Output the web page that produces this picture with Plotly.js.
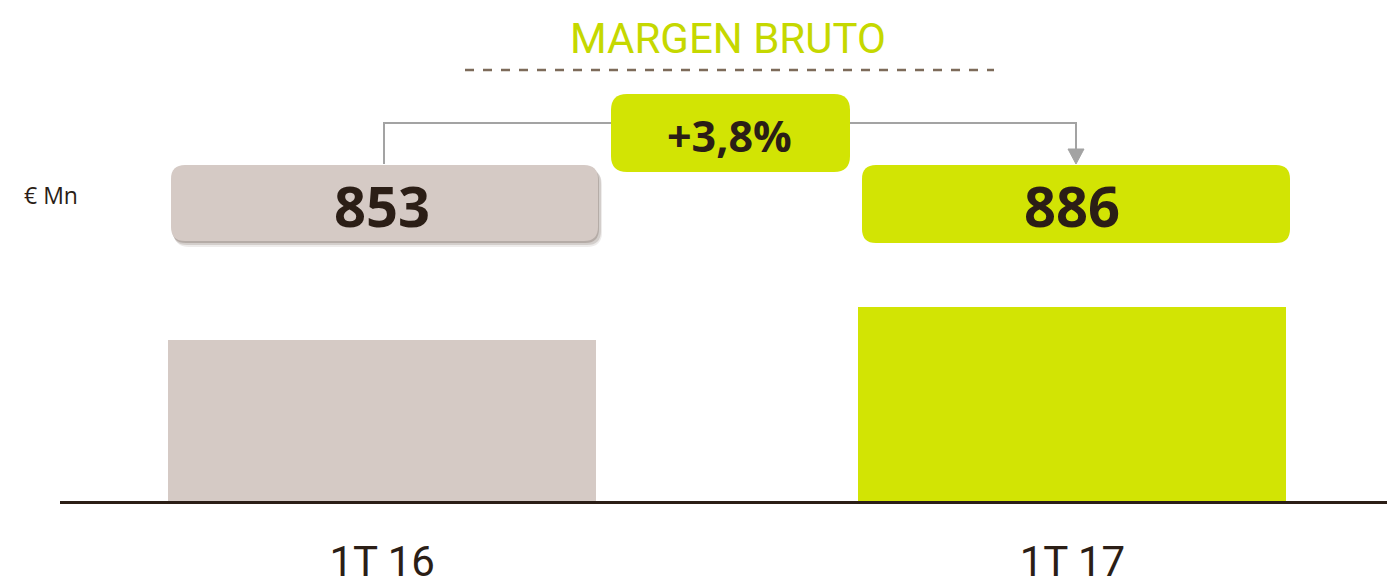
<!DOCTYPE html>
<html>
<head>
<meta charset="utf-8">
<script src="https://cdn.plot.ly/plotly-3.0.1.min.js"></script>
<style>html,body{margin:0;padding:0;background:#fff;}#chart{width:1387px;height:585px;}</style>
</head>
<body>
<div id="chart"></div>
<script>
// ---- data ----
const categories = ['1T 16', '1T 17'];
const values = [853, 886];
const barColors = ['#d5cac5', '#d2e404'];
const valueLabels = ['853', '886'];
const changeLabel = '+3,8%';
const chartTitle = 'MARGEN BRUTO';
const unitLabel = '€ Mn';

// ---- layout helpers (pixel -> paper) ----
const W = 1387, H = 585, ML = 60, MT = 0, MB = 84;
const PW = W - ML, PH = H - MT - MB;
const fx = p => (p - ML) / PW;
const fy = p => (PH - (p - MT)) / PH;
function rr(x0, y0, x1, y1, r) {
  const P = (x, y) => fx(x) + ',' + fy(y);
  return 'M' + P(x0 + r, y0) + ' L' + P(x1 - r, y0) + ' Q' + P(x1, y0) + ' ' + P(x1, y0 + r) +
    ' L' + P(x1, y1 - r) + ' Q' + P(x1, y1) + ' ' + P(x1 - r, y1) +
    ' L' + P(x0 + r, y1) + ' Q' + P(x0, y1) + ' ' + P(x0, y1 - r) +
    ' L' + P(x0, y0 + r) + ' Q' + P(x0, y0) + ' ' + P(x0 + r, y0) + ' Z';
}
function pathShape(d, fill, lineColor, lineWidth) {
  return {type: 'path', xref: 'paper', yref: 'paper', path: d, fillcolor: fill || 'rgba(0,0,0,0)',
    line: {color: lineColor || 'rgba(0,0,0,0)', width: lineWidth || 0}, layer: 'above'};
}
const dark = '#2b1e16';
const lime = '#d2e404';

const trace = {
  type: 'bar', x: categories, y: values,
  marker: {color: barColors, line: {width: 0}},
  width: 0.62, hoverinfo: 'skip', cliponaxis: true
};

const shapes = [
  // dashed rule under title
  {type: 'line', xref: 'paper', yref: 'paper', x0: fx(465), x1: fx(994), y0: fy(70), y1: fy(70),
   line: {color: '#7d6b5a', width: 2.5, dash: 'dash'}, layer: 'above'},
  // connector
  pathShape('M' + fx(384) + ',' + fy(164) + ' L' + fx(384) + ',' + fy(123) + ' L' + fx(1076) + ',' + fy(123) + ' L' + fx(1076) + ',' + fy(150), null, '#a3a3a3', 2),
  pathShape('M' + fx(1068) + ',' + fy(149) + ' L' + fx(1084) + ',' + fy(149) + ' L' + fx(1076) + ',' + fy(164) + ' Z', '#a3a3a3', '#a3a3a3', 1),
  // shadow for first box
  pathShape(rr(174, 170, 602, 247, 15), 'rgba(90,70,60,0.10)'),
  pathShape(rr(173, 169, 601, 245, 14), 'rgba(90,70,60,0.18)'),
  pathShape(rr(172, 167, 599, 243, 14), 'rgba(90,70,60,0.25)'),
  // value boxes
  pathShape(rr(171, 165, 598, 241, 14), barColors[0]),
  pathShape(rr(862, 165, 1290, 243, 14), barColors[1]),
  // change box
  pathShape(rr(611, 94, 850, 172, 16), lime)
];

const annotations = [
  {xref: 'paper', yref: 'paper', x: fx(728), y: fy(38), text: chartTitle, showarrow: false,
   font: {family: 'Roboto, sans-serif', size: 42, color: '#c5d800'}, xanchor: 'center', yanchor: 'middle'},
  {xref: 'paper', yref: 'paper', x: fx(730), y: fy(135), text: '<b>' + changeLabel + '</b>', showarrow: false,
   font: {family: 'Open Sans, sans-serif', size: 43, color: dark}, xanchor: 'center', yanchor: 'middle'},
  {xref: 'paper', yref: 'paper', x: fx(22), y: fy(195), text: unitLabel, showarrow: false,
   font: {family: 'Open Sans, sans-serif', size: 23, color: dark}, xanchor: 'left', yanchor: 'middle'},
  {xref: 'x', yref: 'paper', x: categories[0], y: fy(205), text: '<b>' + valueLabels[0] + '</b>', showarrow: false,
   font: {family: 'Open Sans, sans-serif', size: 56, color: dark}, xanchor: 'center', yanchor: 'middle'},
  {xref: 'x', yref: 'paper', x: categories[1], y: fy(205), text: '<b>' + valueLabels[1] + '</b>', showarrow: false,
   font: {family: 'Open Sans, sans-serif', size: 56, color: dark}, xanchor: 'center', yanchor: 'middle'}
];

const layout = {
  width: W, height: H,
  margin: {l: ML, r: 0, t: MT, b: MB, pad: 0},
  paper_bgcolor: '#ffffff', plot_bgcolor: 'rgba(0,0,0,0)',
  showlegend: false,
  xaxis: {type: 'category', range: [-0.4667, 1.4558], showline: true, linecolor: '#2b1e16', linewidth: 2.5,
    showgrid: false, zeroline: false, ticks: '', tickfont: {family: 'Roboto, sans-serif', size: 42, color: dark},
    ticklabelstandoff: 22, fixedrange: true},
  yaxis: {range: [692, 1193], visible: false, showgrid: false, zeroline: false, fixedrange: true},
  shapes: shapes,
  annotations: annotations,
  bargap: 0
};

Plotly.newPlot('chart', [trace], layout, {displayModeBar: false, staticPlot: true});
</script>
</body>
</html>
